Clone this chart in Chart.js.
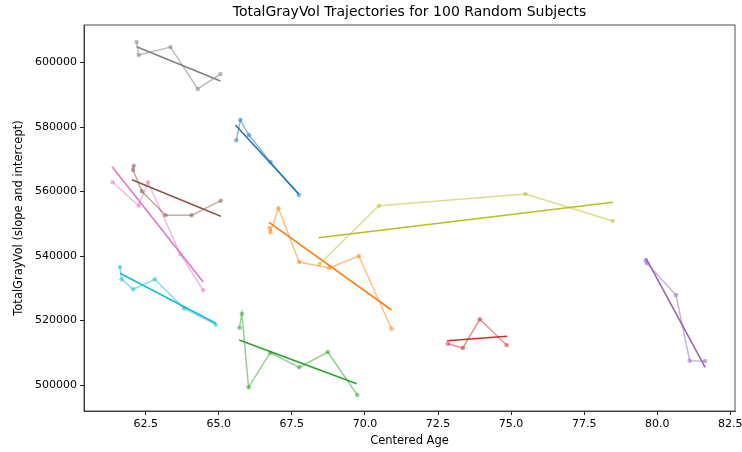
<!DOCTYPE html>
<html>
<head>
<meta charset="utf-8">
<script src="https://cdn.jsdelivr.net/npm/chart.js@4.4.0/dist/chart.umd.min.js"></script>
<style>
  html, body { margin: 0; padding: 0; background: #fff; }
  #wrap { width: 742px; height: 452px; }
</style>
</head>
<body>
<div id="wrap"><canvas id="traj-chart"></canvas></div>
<script>
"use strict";

// tab10 colours, one per subject
const subjectColors = [
    [31, 119, 180],   // blue
    [255, 127, 14],   // orange
    [44, 160, 44],    // green
    [214, 39, 40],    // red
    [148, 103, 189],  // purple
    [140, 86, 75],    // brown
    [227, 119, 194],  // pink
    [127, 127, 127],  // gray
    [188, 189, 34],   // olive
    [23, 190, 207]    // cyan
];

// observed visits (age, volume) per subject
const subjectAges = [
    [65.60, 65.74, 66.03, 66.77, 67.74],
    [66.74, 66.77, 67.04, 67.75, 68.78, 69.79, 70.91],
    [65.71, 65.79, 66.02, 66.76, 67.75, 68.73, 69.74],
    [72.84, 73.35, 73.93, 74.85],
    [79.60, 79.64, 80.64, 81.11, 81.64],
    [62.09, 62.07, 62.37, 63.18, 64.07, 65.07],
    [61.37, 62.26, 62.58, 63.69, 64.47],
    [62.19, 62.26, 63.35, 64.28, 65.06],
    [68.45, 70.48, 75.49, 78.48],
    [61.62, 61.68, 62.07, 62.81, 63.81, 64.90]
];

const subjectVolumes = [
    [575876, 582171, 577519, 569147, 558915],
    [548775, 547442, 554791, 538140, 536279, 540000, 517457],
    [517767, 522109, 499287, 510016, 505488, 510233, 496899],
    [512806, 511473, 520372, 512310],
    [538700, 537800, 527907, 507535, 507442],
    [568000, 566667, 560062, 552620, 552620, 557147],
    [562853, 555597, 562853, 540527, 529364],
    [606357, 602326, 604806, 591783, 596434],
    [537519, 555597, 559225, 550853],
    [536589, 532775, 529674, 532775, 523783, 518698]
];

// fitted line (slope and intercept) end points per subject
const fitAges = [
    [65.57, 67.74],
    [66.72, 70.91],
    [65.70, 69.72],
    [72.81, 74.86],
    [79.62, 81.64],
    [62.03, 65.07],
    [61.35, 64.47],
    [62.19, 65.06],
    [68.41, 78.48],
    [61.62, 64.90]
];

const fitVolumes = [
    [580620, 559225],
    [550450, 523256],
    [513953, 500403],
    [513736, 515101],
    [539287, 505488],
    [563659, 552310],
    [567690, 531938],
    [604899, 594264],
    [545674, 556651],
    [534636, 519132]
];

const xTicks = [62.5, 65.0, 67.5, 70.0, 72.5, 75.0, 77.5, 80.0, 82.5];
const yTicks = [500000, 520000, 540000, 560000, 580000, 600000];

function rgba(c, a) {
    return `rgba(${c[0]}, ${c[1]}, ${c[2]}, ${a})`;
}

const datasets = [];
subjectColors.forEach((color, i) => {
    datasets.push({
        data: subjectAges[i].map((age, k) => ({ x: age, y: subjectVolumes[i][k] })),
        borderColor: rgba(color, 0.5),
        backgroundColor: rgba(color, 0.5),
        borderWidth: 1.5,
        pointRadius: 2.3,
        pointBorderWidth: 0,
        tension: 0
    });
    datasets.push({
        data: fitAges[i].map((age, k) => ({ x: age, y: fitVolumes[i][k] })),
        borderColor: rgba(color, 1),
        borderWidth: 1.6,
        pointRadius: 0,
        tension: 0
    });
});

// matplotlib draws all four spines
const frameBox = {
    id: 'frameBox',
    afterDraw(chart) {
        const { ctx, chartArea } = chart;
        ctx.save();
        ctx.strokeStyle = '#222';
        ctx.lineWidth = 0.8;
        ctx.strokeRect(chartArea.left, chartArea.top, chartArea.right - chartArea.left, chartArea.bottom - chartArea.top);
        ctx.restore();
    }
};

const tickFont = { family: 'DejaVu Sans', size: 11 };
const labelFont = { family: 'DejaVu Sans', size: 11.5 };

const ctx = document.getElementById('traj-chart').getContext('2d');

new Chart(ctx, {
    type: 'line',
    data: { datasets: datasets },
    plugins: [frameBox],
    options: {
        responsive: true,
        maintainAspectRatio: false,
        animation: false,
        layout: {
            padding: { left: 8, right: 7, top: 0, bottom: 0 }
        },
        plugins: {
            legend: { display: false },
            tooltip: { enabled: false },
            title: {
                display: true,
                fullSize: false,
                text: 'TotalGrayVol Trajectories for 100 Random Subjects',
                color: '#000',
                font: { family: 'DejaVu Sans', size: 14, weight: 'normal', lineHeight: 1.2 },
                padding: { top: 4, bottom: 4.2 }
            }
        },
        scales: {
            x: {
                type: 'linear',
                min: 60.39,
                max: 82.66,
                afterFit: scale => {
                    scale.height = 41;
                    scale.paddingLeft = 0;
                    scale.paddingRight = 0;
                },
                afterBuildTicks: scale => { scale.ticks = xTicks.map(v => ({ value: v })); },
                grid: {
                    drawOnChartArea: false,
                    drawTicks: true,
                    tickLength: 4,
                    color: '#222'
                },
                border: { display: true, color: '#222', width: 0.8 },
                ticks: {
                    color: '#000',
                    font: tickFont,
                    padding: 3,
                    maxRotation: 0,
                    autoSkip: false,
                    callback: value => value.toFixed(1)
                },
                title: {
                    display: true,
                    text: 'Centered Age',
                    color: '#000',
                    font: labelFont,
                    padding: { top: 4, bottom: 4 }
                }
            },
            y: {
                type: 'linear',
                min: 491938,
                max: 611628,
                afterFit: scale => {
                    scale.width = 76;
                    scale.paddingTop = 0;
                    scale.paddingBottom = 0;
                },
                afterBuildTicks: scale => { scale.ticks = yTicks.map(v => ({ value: v })); },
                grid: {
                    drawOnChartArea: false,
                    drawTicks: true,
                    tickLength: 4,
                    color: '#222'
                },
                border: { display: true, color: '#222', width: 0.8 },
                ticks: {
                    color: '#000',
                    font: tickFont,
                    padding: 3,
                    autoSkip: false,
                    callback: value => String(value)
                },
                title: {
                    display: true,
                    text: 'TotalGrayVol (slope and intercept)',
                    color: '#000',
                    font: labelFont,
                    padding: { top: 4, bottom: 4 }
                }
            }
        }
    }
});
</script>
</body>
</html>
